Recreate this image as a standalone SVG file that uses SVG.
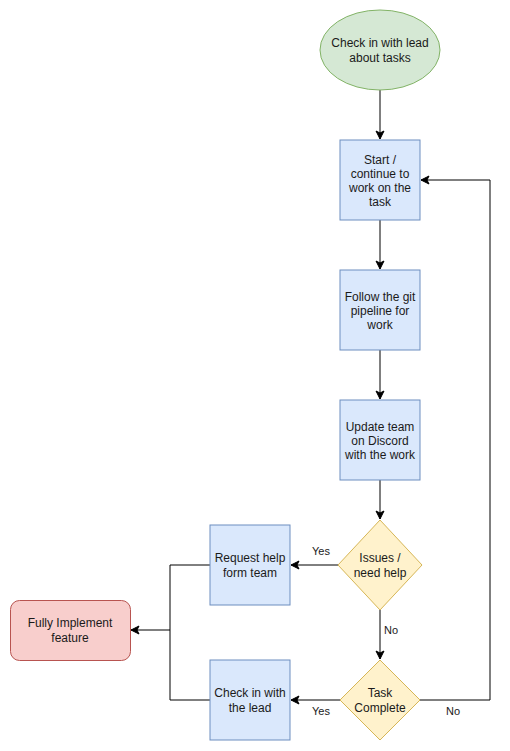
<svg xmlns="http://www.w3.org/2000/svg" width="510" height="751" viewBox="0 0 510 751">
<style>
text{font-family:"Liberation Sans",Arial,sans-serif;font-size:12px;fill:#1a1a1a;text-anchor:middle}
.lbl{font-size:11px}
.blue{fill:#dae8fc;stroke:#6c8ebf;stroke-width:1}
.yel{fill:#fff2cc;stroke:#d6b656;stroke-width:1}
.edge{fill:none;stroke:#000;stroke-width:1}
</style>
<defs>
<marker id="arr" viewBox="0 0 10 10" refX="9" refY="5" markerWidth="10" markerHeight="10" markerUnits="userSpaceOnUse" orient="auto">
<path d="M1,1 L9,5 L1,9 L3,5 Z" fill="#000" stroke="#000" stroke-width="1"/>
</marker>
</defs>
<g id="connectors">
<path class="edge" d="M380,90 V139" marker-end="url(#arr)"/>
<path class="edge" d="M380,220 V269" marker-end="url(#arr)"/>
<path class="edge" d="M380,350 V399" marker-end="url(#arr)"/>
<path class="edge" d="M380,480 V519" marker-end="url(#arr)"/>
<path class="edge" d="M338,565 H291" marker-end="url(#arr)"/>
<path class="edge" d="M380,610 V659" marker-end="url(#arr)"/>
<path class="edge" d="M340,700 H291" marker-end="url(#arr)"/>
<path class="edge" d="M420,700 H490 V180 H421" marker-end="url(#arr)"/>
<path class="edge" d="M210,565 H170 V630 H131" marker-end="url(#arr)"/>
<path class="edge" d="M210,700 H170 V630"/>
<text class="lbl" x="321" y="555">Yes</text>
<text class="lbl" x="391" y="634">No</text>
<text class="lbl" x="321" y="715">Yes</text>
<text class="lbl" x="453" y="715">No</text>
</g>
<g id="start">
<ellipse cx="380" cy="50" rx="60" ry="40" fill="#d5e8d4" stroke="#82b366"/>
<text x="380" y="47">Check in with lead</text>
<text x="380" y="62">about tasks</text>
</g>
<g id="task">
<rect class="blue" x="340" y="140" width="80" height="80"/>
<text x="380" y="164">Start /</text>
<text x="380" y="178">continue to</text>
<text x="380" y="192">work on the</text>
<text x="380" y="206">task</text>
</g>
<g id="git">
<rect class="blue" x="340" y="270" width="80" height="80"/>
<text x="380" y="301">Follow the git</text>
<text x="380" y="315">pipeline for</text>
<text x="380" y="329">work</text>
</g>
<g id="discord">
<rect class="blue" x="340" y="400" width="80" height="80"/>
<text x="380" y="431">Update team</text>
<text x="380" y="445">on Discord</text>
<text x="380" y="459">with the work</text>
</g>
<g id="issues">
<path class="yel" d="M380,520 L422,565 L380,610 L338,565 Z"/>
<text x="380" y="562">Issues /</text>
<text x="380" y="577">need help</text>
</g>
<g id="complete">
<path class="yel" d="M380,660 L420,700 L380,740 L340,700 Z"/>
<text x="380" y="697">Task</text>
<text x="380" y="712">Complete</text>
</g>
<g id="request">
<rect class="blue" x="210" y="525" width="80" height="80"/>
<text x="250" y="562">Request help</text>
<text x="250" y="577">form team</text>
</g>
<g id="checklead">
<rect class="blue" x="210" y="660" width="80" height="80"/>
<text x="250" y="697">Check in with</text>
<text x="250" y="712">the lead</text>
</g>
<g id="implement">
<rect x="10.5" y="600.5" width="120" height="60" rx="9" fill="#f8cecc" stroke="#b85450"/>
<text x="70" y="627">Fully Implement</text>
<text x="70" y="642">feature</text>
</g>
</svg>
